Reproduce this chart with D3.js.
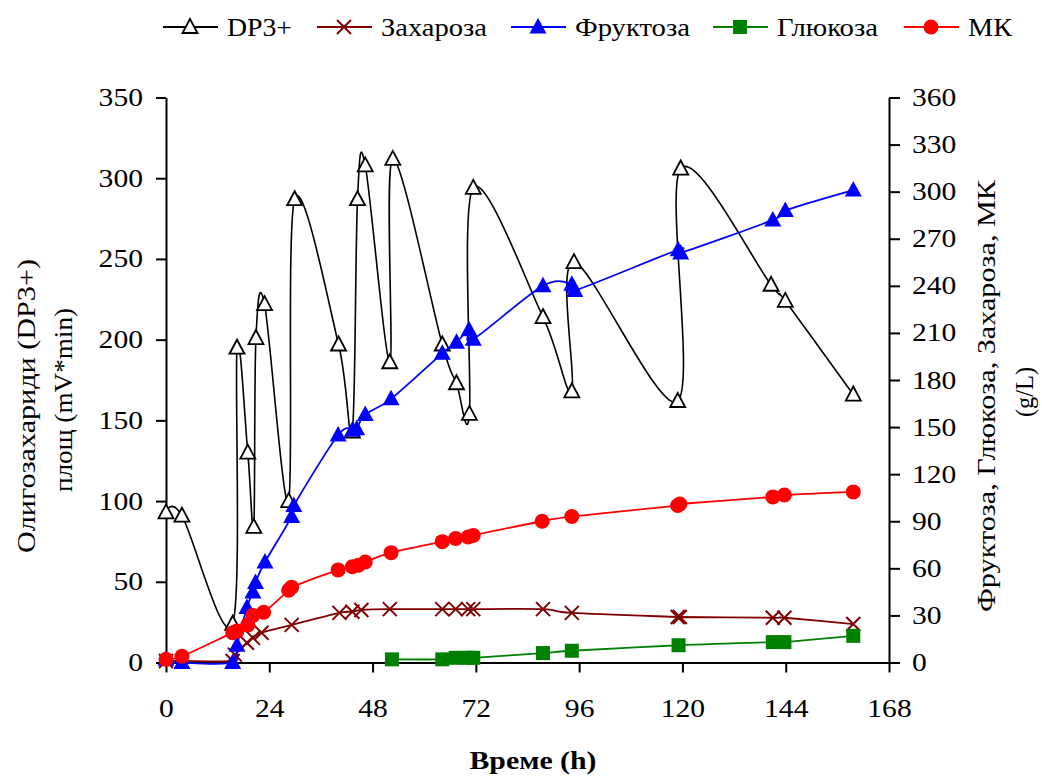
<!DOCTYPE html>
<html>
<head>
<meta charset="utf-8">
<script src="https://cdn.jsdelivr.net/npm/d3@7"></script>
<style>
body { margin: 0; background: #fff; }
svg text { font-family: "Liberation Serif", "Times New Roman", serif; fill: #000; }
</style>
</head>
<body>
<svg id="chart" width="1042" height="776"></svg>
<script>
// data
var seriesNames = ["DP3+", "Захароза", "Фруктоза", "Глюкоза", "МК"];
var seriesColors = ["#000000", "#800000", "#0000ff", "#008000", "#ff0000"];

var dpTime = [0, 3.7, 15.5, 16.5, 19, 20.4, 20.9, 22.9, 28.5, 29.9, 40.1, 43.3, 44.5, 46.3, 52, 52.7, 64.2, 67.5, 70.5, 71.4, 87.6, 94.3, 94.8, 118.9, 119.6, 140.6, 143.9, 159.7];
var dpValue = [93, 91, 24, 195, 130, 84, 201, 222, 100, 287, 197, 143, 287, 308, 186, 312, 197, 173, 154, 294, 214, 168, 248, 162, 306, 234, 224, 166];

var sucTime = [0, 3.7, 15.5, 16, 18.8, 20.2, 22.2, 29.2, 40.3, 43.3, 45.4, 52, 64.2, 67.3, 70.2, 71.4, 87.6, 94.3, 118.9, 119.4, 141, 143.7, 159.7];
var sucValue = [1, 1, 1, 5, 12.6, 15.7, 19, 24, 31.6, 32.3, 33.5, 34, 34, 34, 34, 34, 34, 31.6, 29, 29, 28.5, 28.5, 24.5];

var fruTime = [0, 3.7, 15.5, 16.5, 18.8, 20.2, 20.8, 23, 29.2, 29.7, 40, 43.3, 44.3, 46.3, 52.3, 64.2, 67.5, 70.4, 71.4, 87.6, 94.3, 95, 119, 119.6, 141, 143.9, 159.7];
var fruValue = [2, 0, 0, 11, 35, 45, 51, 64, 93, 100, 145, 148, 149, 158, 168, 197, 204, 212, 206, 240, 241, 237, 263, 261, 282, 288, 301];

var gluTime = [52.5, 64.2, 67.3, 70.2, 71.4, 87.6, 94.3, 119.1, 141, 143.7, 159.7];
var gluValue = [2, 2, 3, 3, 3, 6, 7.5, 11, 13, 13, 17];

var mkTime = [0, 3.7, 15.5, 16.5, 19, 20.2, 22.7, 28.5, 29.2, 40, 43.3, 44.7, 46.3, 52.3, 64.2, 67.3, 70.2, 71.4, 87.4, 94.3, 118.9, 119.4, 141, 143.7, 159.7];
var mkValue = [2, 4, 19, 20, 24, 30, 32, 46, 48, 59, 61, 62, 64, 70, 77, 79, 80, 81, 90, 93, 100, 101, 105.5, 106.7, 108.7];

var xTicks = [0, 24, 48, 72, 96, 120, 144, 168];
var leftTicks = [0, 50, 100, 150, 200, 250, 300, 350];
var rightTicks = [0, 30, 60, 90, 120, 150, 180, 210, 240, 270, 300, 330, 360];

var plotLeft = 166, plotRight = 889, plotTop = 97.5, plotBottom = 662.5;

var svg = d3.select("#chart");

var x = d3.scaleLinear().domain([0, 168]).range([plotLeft, plotRight]);
var yL = d3.scaleLinear().domain([0, 350]).range([plotBottom, plotTop]);
var yR = d3.scaleLinear().domain([0, 360]).range([plotBottom, plotTop]);

function zip(t, v){
	return t.map(function(d, i){ return [d, v[i]]; });
}

// the reference font is set wider than Liberation Serif, stretch text to its length
function stretch(sel, len){
	sel.attr("textLength", len).attr("lengthAdjust", "spacingAndGlyphs");
}

var series = [
	{name: seriesNames[0], color: seriesColors[0], data: zip(dpTime, dpValue), y: yL, marker: "open", width: 1.6},
	{name: seriesNames[1], color: seriesColors[1], data: zip(sucTime, sucValue), y: yR, marker: "x", width: 1.8},
	{name: seriesNames[2], color: seriesColors[2], data: zip(fruTime, fruValue), y: yR, marker: "tri", width: 1.8},
	{name: seriesNames[3], color: seriesColors[3], data: zip(gluTime, gluValue), y: yR, marker: "square", width: 1.8},
	{name: seriesNames[4], color: seriesColors[4], data: zip(mkTime, mkValue), y: yR, marker: "circle", width: 1.8}
];

function drawMarker(g, type, color, cx, cy){
	if(type == "open"){
		g.append("path")
			.attr("d", "M" + cx + "," + (cy - 8) + "L" + (cx + 7.5) + "," + (cy + 6) + "L" + (cx - 7.5) + "," + (cy + 6) + "Z")
			.attr("fill", "#fff").attr("stroke", color).attr("stroke-width", 1.8);
	}else if(type == "tri"){
		g.append("path")
			.attr("d", "M" + cx + "," + (cy - 9) + "L" + (cx + 8.5) + "," + (cy + 6.5) + "L" + (cx - 8.5) + "," + (cy + 6.5) + "Z")
			.attr("fill", color);
	}else if(type == "square"){
		g.append("rect")
			.attr("x", cx - 7).attr("y", cy - 7).attr("width", 14).attr("height", 14)
			.attr("fill", color);
	}else if(type == "circle"){
		g.append("circle")
			.attr("cx", cx).attr("cy", cy).attr("r", 7.5)
			.attr("fill", color);
	}else if(type == "x"){
		g.append("path")
			.attr("d", "M" + (cx - 7) + "," + (cy - 7) + "L" + (cx + 7) + "," + (cy + 7) + "M" + (cx + 7) + "," + (cy - 7) + "L" + (cx - 7) + "," + (cy + 7))
			.attr("stroke", color).attr("stroke-width", 2).attr("fill", "none");
	}
}

// axes
var xAxis = d3.axisBottom(x).tickValues(xTicks).tickSize(10).tickSizeOuter(0).tickPadding(27);
var gx = svg.append("g").attr("transform", "translate(0," + plotBottom + ")").call(xAxis);

var lAxis = d3.axisLeft(yL).tickValues(leftTicks).tickSize(10).tickSizeOuter(0).tickPadding(13);
var gl = svg.append("g").attr("transform", "translate(" + plotLeft + ",0)").call(lAxis);

var rAxis = d3.axisRight(yR).tickValues(rightTicks).tickSize(11).tickSizeOuter(0).tickPadding(12);
var gr = svg.append("g").attr("transform", "translate(" + plotRight + ",0)").call(rAxis);

[gx, gl, gr].forEach(function(g){
	g.selectAll("path, line").attr("stroke", "#000").attr("stroke-width", 2);
	g.selectAll("text")
		.style("font-size", "25px").style("font-family", "Liberation Serif").attr("fill", "#000")
		.each(function(){
			var t = d3.select(this);
			stretch(t, t.text().length * 14.8);
		});
});

// series lines and markers
var line = d3.line().curve(d3.curveCardinal.tension(0));

series.forEach(function(s){
	var g = svg.append("g");
	g.append("path")
		.attr("d", line(s.data.map(function(d){ return [x(d[0]), s.y(d[1])]; })))
		.attr("fill", "none")
		.attr("stroke", s.color)
		.attr("stroke-width", s.width);
	s.data.forEach(function(d){
		drawMarker(g, s.marker, s.color, x(d[0]), s.y(d[1]));
	});
});

// legend
var legendX = [163, 317, 511, 713, 904];
var legendLen = [65, 106, 115, 101, 44];
series.forEach(function(s, i){
	var g = svg.append("g");
	var lx = legendX[i];
	g.append("line")
		.attr("x1", lx).attr("x2", lx + 55)
		.attr("y1", 27).attr("y2", 27)
		.attr("stroke", s.color).attr("stroke-width", 2);
	drawMarker(g, s.marker, s.color, lx + 27, 27);
	var t = g.append("text")
		.attr("x", lx + 64).attr("y", 36)
		.style("font-size", "25px")
		.text(s.name);
	stretch(t, legendLen[i]);
});

// axis titles
var tx = svg.append("text")
	.attr("x", 533).attr("y", 769)
	.attr("text-anchor", "middle")
	.style("font-size", "26px").style("font-weight", "bold")
	.text("Време (h)");
stretch(tx, 127);

var t1 = svg.append("text")
	.attr("transform", "translate(35,406) rotate(-90)")
	.attr("text-anchor", "middle")
	.style("font-size", "26px")
	.text("Олигозахариди (DP3+)");
stretch(t1, 294);
var t2 = svg.append("text")
	.attr("transform", "translate(72,400) rotate(-90)")
	.attr("text-anchor", "middle")
	.style("font-size", "26px")
	.text("площ (mV*min)");
stretch(t2, 184);

var t3 = svg.append("text")
	.attr("transform", "translate(995,396) rotate(-90)")
	.attr("text-anchor", "middle")
	.style("font-size", "26px")
	.text("Фруктоза, Глюкоза, Захароза, МК");
stretch(t3, 432);
var t4 = svg.append("text")
	.attr("transform", "translate(1033,392) rotate(-90)")
	.attr("text-anchor", "middle")
	.style("font-size", "26px")
	.text("(g/L)");
stretch(t4, 50);
</script>
</body>
</html>
